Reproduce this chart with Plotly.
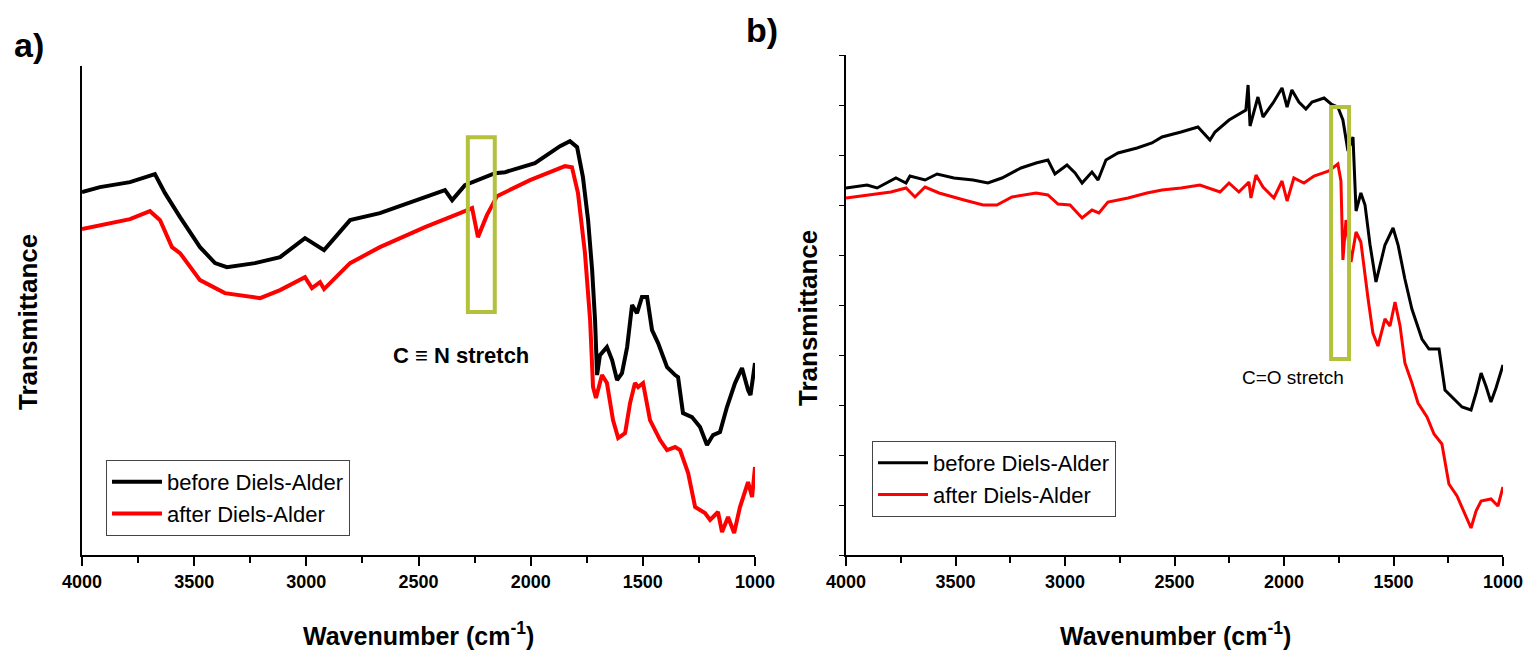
import plotly.graph_objects as go

# panel a) - C≡N region
wn_a_before = [4000, 3920, 3786, 3697, 3675, 3630, 3563, 3474, 3407, 3354, 3229, 3117, 3006, 2921,
               2805, 2672, 2538, 2382, 2350, 2293, 2159, 2114, 1981, 1869, 1825, 1793, 1767, 1744,
               1726, 1713, 1704, 1691, 1660, 1637, 1615, 1593, 1570, 1548, 1526, 1504, 1481, 1459,
               1432, 1392, 1356, 1343, 1321, 1281, 1245, 1214, 1187, 1156, 1125, 1089, 1058, 1031,
               1020, 1000]
t_a_before = [72.6, 73.6, 74.6, 75.8, 76.2, 72.4, 67.6, 61.6, 58.4, 57.6, 58.4, 59.6, 63.4, 61.0,
              67.0, 68.4, 70.6, 73.0, 71.0, 74.0, 76.4, 76.6, 78.4, 81.8, 82.8, 81.6, 75.6, 67.0,
              57.0, 47.0, 36.0, 40.0, 41.6, 39.0, 35.0, 36.4, 41.6, 50.0, 48.4, 51.6, 51.6, 45.0,
              42.4, 37.6, 36.0, 35.6, 28.4, 27.6, 25.6, 22.0, 24.0, 24.6, 29.6, 34.4, 37.4, 33.0,
              32.0, 38.4]

wn_a_after = [4000, 3920, 3786, 3697, 3652, 3599, 3563, 3474, 3363, 3206, 3117, 3006, 2975, 2939,
              2921, 2850, 2805, 2672, 2471, 2315, 2261, 2235, 2195, 2150, 2003, 1914, 1847, 1816,
              1789, 1758, 1735, 1722, 1709, 1682, 1660, 1633, 1610, 1579, 1557, 1535, 1521, 1499,
              1468, 1423, 1392, 1356, 1334, 1298, 1267, 1223, 1200, 1165, 1147, 1120, 1093, 1067,
              1031, 1013, 1000]
t_a_after = [65.2, 66.0, 67.2, 68.8, 67.0, 61.6, 60.4, 55.0, 52.4, 51.4, 53.0, 55.6, 53.4, 54.6,
             53.2, 56.4, 58.4, 61.6, 65.6, 68.4, 69.4, 63.6, 68.0, 71.8, 75.0, 76.6, 77.8, 77.6,
             72.4, 60.4, 47.0, 33.6, 31.4, 36.0, 34.4, 27.0, 23.4, 24.4, 30.4, 34.4, 33.6, 34.4,
             27.0, 23.0, 21.0, 21.6, 21.0, 16.4, 9.6, 8.4, 7.0, 8.6, 4.6, 7.6, 4.4, 9.6,
             14.6, 11.6, 17.6]

# panel b) - C=O region
wn_b_before = [4000, 3904, 3858, 3772, 3726, 3708, 3639, 3584, 3507, 3420, 3352, 3288, 3201, 3132,
               3078, 3046, 2991, 2954, 2922, 2877, 2849, 2813, 2758, 2671, 2603, 2557, 2470, 2393,
               2338, 2315, 2251, 2196, 2174, 2164, 2155, 2119, 2096, 2050, 2009, 1986, 1964, 1932,
               1900, 1872, 1817, 1785, 1754, 1731, 1708, 1685, 1671, 1649, 1630, 1607, 1580, 1539,
               1502, 1479, 1448, 1416, 1370, 1338, 1292, 1265, 1219, 1187, 1146, 1123, 1100, 1078,
               1055, 1032, 1000]
t_b_before = [73.4, 74.0, 73.4, 75.4, 74.4, 75.8, 75.0, 76.2, 75.4, 75.0, 74.4, 75.4, 77.4, 78.4,
              79.0, 76.2, 78.0, 76.4, 74.4, 76.6, 75.0, 79.0, 80.4, 81.4, 82.4, 83.6, 84.6, 85.6,
              83.0, 84.6, 87.0, 88.4, 89.0, 94.0, 85.8, 91.6, 87.6, 90.4, 93.4, 89.6, 93.0, 90.6,
              89.2, 90.6, 91.4, 90.2, 89.6, 87.0, 80.8, 83.6, 68.8, 72.4, 70.0, 62.0, 54.6, 62.0,
              65.4, 62.0, 55.2, 49.2, 43.2, 41.2, 41.2, 33.0, 31.0, 29.6, 29.0, 32.4, 36.4, 33.8,
              30.6, 33.4, 38.0]

wn_b_after = [4000, 3904, 3795, 3726, 3685, 3639, 3575, 3461, 3374, 3311, 3242, 3132, 3078, 3032,
              2977, 2922, 2877, 2845, 2804, 2712, 2626, 2557, 2470, 2384, 2292, 2251, 2206, 2160,
              2151, 2128, 2096, 2046, 2009, 1986, 1955, 1909, 1863, 1795, 1754, 1740, 1731, 1717,
              1694, 1671, 1649, 1616, 1594, 1571, 1539, 1516, 1493, 1470, 1448, 1416, 1388, 1347,
              1315, 1279, 1247, 1210, 1187, 1146, 1123, 1100, 1055, 1023, 1000]
t_b_after = [71.4, 72.0, 72.6, 73.4, 71.6, 73.6, 72.4, 71.0, 70.0, 70.0, 71.6, 72.4, 72.0, 70.2,
             70.0, 67.4, 69.0, 68.4, 70.6, 71.4, 72.4, 73.0, 73.4, 74.0, 72.6, 74.4, 72.6, 74.6,
             71.4, 76.0, 73.6, 71.4, 74.8, 70.8, 75.4, 74.4, 75.8, 76.8, 78.2, 74.8, 59.0, 67.0,
             58.6, 64.6, 62.6, 51.2, 44.4, 41.8, 47.2, 45.8, 50.6, 45.8, 38.4, 34.4, 30.4, 27.6,
             24.2, 22.2, 14.2, 11.8, 9.4, 5.4, 8.8, 10.8, 11.2, 9.8, 13.6]

labels = ["before Diels-Alder", "after Diels-Alder"]
colors = ["black", "red"]

font = "Arial, Liberation Sans, sans-serif"
green = "#b3c13c"
W, H = 1533, 657
OFF = 8  # page body margin


def px(x):
    return (x - OFF) / W


def py(y):
    return 1 - (y - OFF) / H


fig = go.Figure()

fig.add_trace(go.Scatter(x=wn_a_before, y=t_a_before, mode="lines", name=labels[0],
                         line=dict(color=colors[0], width=4), xaxis="x", yaxis="y", legend="legend"))
fig.add_trace(go.Scatter(x=wn_a_after, y=t_a_after, mode="lines", name=labels[1],
                         line=dict(color=colors[1], width=4), xaxis="x", yaxis="y", legend="legend"))
fig.add_trace(go.Scatter(x=wn_b_before, y=t_b_before, mode="lines", name=labels[0],
                         line=dict(color=colors[0], width=3), xaxis="x2", yaxis="y2", legend="legend2"))
fig.add_trace(go.Scatter(x=wn_b_after, y=t_b_after, mode="lines", name=labels[1],
                         line=dict(color=colors[1], width=3), xaxis="x2", yaxis="y2", legend="legend2"))

xcommon = dict(range=[4000, 1000], dtick=500, tick0=1000, showline=True, linecolor="black",
               linewidth=2, ticks="outside", ticklen=9, tickwidth=2, tickcolor="black",
               showgrid=False, zeroline=False, automargin=False,
               minor=dict(dtick=250, tick0=1000, ticks="outside", ticklen=6, tickwidth=2,
                          tickcolor="black"),
               tickfont=dict(family=font, size=18, color="black", weight="bold"))


def label(text, x, y, size, angle=0):
    return dict(text=f"<b>{text}</b>", xref="paper", yref="paper",
                x=px(x), y=py(y), xanchor="center", yanchor="middle",
                textangle=angle, showarrow=False,
                font=dict(family=font, size=size, color="black"))


legend_style = dict(xanchor="left", yanchor="middle", bordercolor="#444", borderwidth=1,
                    bgcolor="white", itemwidth=50, tracegroupgap=0,
                    font=dict(family=font, size=22, color="black"))

fig.update_layout(
    width=W, height=H,
    margin=dict(l=0, r=0, t=0, b=0, autoexpand=False),
    paper_bgcolor="white", plot_bgcolor="white",
    xaxis=dict(domain=[px(82), px(755)], anchor="y", **xcommon),
    yaxis=dict(domain=[py(555), py(65.7)], anchor="x", range=[0, 97.9], showline=True,
               linecolor="black", linewidth=2, showticklabels=False, ticks="",
               showgrid=False, zeroline=False, automargin=False),
    xaxis2=dict(domain=[px(846), px(1503)], anchor="y2", **xcommon),
    yaxis2=dict(domain=[py(555), py(55)], anchor="x2", range=[0, 100], dtick=10,
                showline=True, linecolor="black", linewidth=2, showticklabels=False,
                ticks="outside", ticklen=5, tickwidth=1, tickcolor="black",
                showgrid=False, zeroline=False, automargin=False),
    legend=dict(x=px(106), y=py(498), **legend_style),
    legend2=dict(x=px(872), y=py(479), **legend_style),
    shapes=[
        dict(type="rect", xref="x", yref="y", x0=2280, x1=2160, y0=48.6, y1=83.6,
             line=dict(color=green, width=4)),
        dict(type="rect", xref="x2", yref="y2", x0=1785, x1=1703, y0=39.2, y1=89.6,
             line=dict(color=green, width=4)),
    ],
    annotations=[
        dict(text="<b>C ≡ N stretch</b>", xref="x", yref="y", x=2310, y=40, showarrow=False,
             xanchor="center", yanchor="middle",
             font=dict(family=font, size=22, color="black")),
        dict(text="C=O stretch", xref="x2", yref="y2", x=1959, y=35.4, showarrow=False,
             xanchor="center", yanchor="middle",
             font=dict(family=font, size=19, color="black")),
        label("Wavenumber (cm<sup>-1</sup>)", 418, 634, 25),
        label("Wavenumber (cm<sup>-1</sup>)", 1175, 634, 25),
        label("Transmittance", 28, 322, 26, angle=-90),
        label("Transmittance", 808, 318, 26, angle=-90),
        label("a)", 29, 45, 34),
        label("b)", 762, 30, 34),
    ],
)

fig.write_html("out.html")
